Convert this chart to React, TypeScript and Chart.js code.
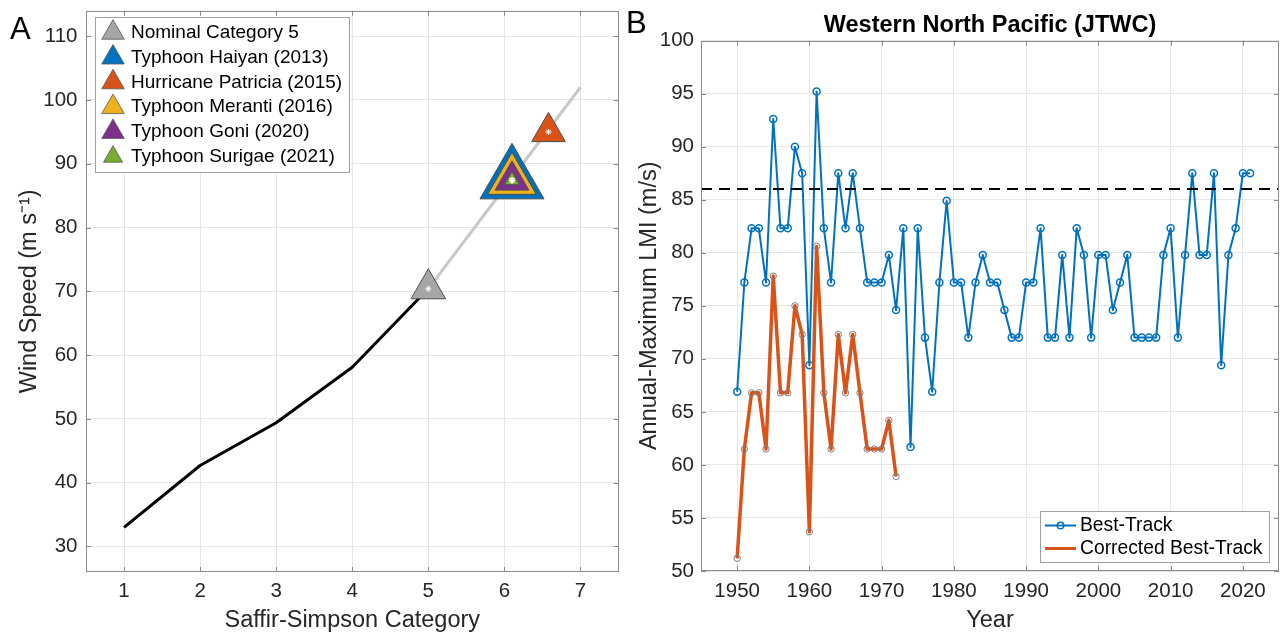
import React, { useEffect, useRef } from 'react';
import { Chart, registerables } from 'chart.js';

Chart.register(...registerables);

const FONT = '"Liberation Sans", Arial, Helvetica, sans-serif';
Chart.defaults.font.family = FONT;

// ---------------- Panel A data ----------------
const ssCategories = [1, 2, 3, 4, 5];
const ssThresholdWind = [33.0, 42.7, 49.4, 58.1, 70.4];
const extCategories = [5, 6, 7];
const extWind = [70.4, 86.2, 102.0];
const stormNames = [
  'Nominal Category 5',
  'Typhoon Haiyan (2013)',
  'Hurricane Patricia (2015)',
  'Typhoon Meranti (2016)',
  'Typhoon Goni (2020)',
  'Typhoon Surigae (2021)',
];
const stormCategory = [5, 6.1, 6.58, 6.1, 6.1, 6.1];
const stormWind = [70.4, 87.4, 95.0, 87.4, 87.4, 87.4];
const panelAXTicks = [1, 2, 3, 4, 5, 6, 7];
const panelAYTicks = [30, 40, 50, 60, 70, 80, 90, 100, 110];

// ---------------- Panel B data ----------------
const years = [
  1950, 1951, 1952, 1953, 1954, 1955, 1956, 1957, 1958, 1959,
  1960, 1961, 1962, 1963, 1964, 1965, 1966, 1967, 1968, 1969,
  1970, 1971, 1972, 1973, 1974, 1975, 1976, 1977, 1978, 1979,
  1980, 1981, 1982, 1983, 1984, 1985, 1986, 1987, 1988, 1989,
  1990, 1991, 1992, 1993, 1994, 1995, 1996, 1997, 1998, 1999,
  2000, 2001, 2002, 2003, 2004, 2005, 2006, 2007, 2008, 2009,
  2010, 2011, 2012, 2013, 2014, 2015, 2016, 2017, 2018, 2019,
  2020, 2021,
];
const bestTrackLMI = [
  66.9, 77.2, 82.3, 82.3, 77.2, 92.6, 82.3, 82.3, 90.0, 87.5,
  69.4, 95.2, 82.3, 77.2, 87.5, 82.3, 87.5, 82.3, 77.2, 77.2,
  77.2, 79.8, 74.6, 82.3, 61.7, 82.3, 72.0, 66.9, 77.2, 84.9,
  77.2, 77.2, 72.0, 77.2, 79.8, 77.2, 77.2, 74.6, 72.0, 72.0,
  77.2, 77.2, 82.3, 72.0, 72.0, 79.8, 72.0, 82.3, 79.8, 72.0,
  79.8, 79.8, 74.6, 77.2, 79.8, 72.0, 72.0, 72.0, 72.0, 79.8,
  82.3, 72.0, 79.8, 87.5, 79.8, 79.8, 87.5, 69.4, 79.8, 82.3,
  87.5, 87.5,
];
const correctedYears = [
  1950, 1951, 1952, 1953, 1954, 1955, 1956, 1957, 1958, 1959,
  1960, 1961, 1962, 1963, 1964, 1965, 1966, 1967, 1968, 1969,
  1970, 1971, 1972,
];
const correctedLMI = [
  51.2, 61.5, 66.8, 66.8, 61.5, 77.8, 66.8, 66.8, 75.0, 72.3,
  53.7, 80.6, 66.8, 61.5, 72.3, 66.8, 72.3, 66.8, 61.5, 61.5,
  61.5, 64.2, 58.9,
];
const lmiThreshold = 86.0;
const panelBXTicks = [1950, 1960, 1970, 1980, 1990, 2000, 2010, 2020];
const panelBYTicks = [50, 55, 60, 65, 70, 75, 80, 85, 90, 95, 100];
const yearAxisMin = 1945;
const yearAxisMax = 2025;

// ---------------- Styles ----------------
const TEXT = '#262626';
const AXIS = '#8a8a8a';
const GRID = '#e6e6e6';
const TICK_SIZE = 20.5;
const LABEL_SIZE = 23.5;
const stormFill = ['#A6A6A6', '#0072BD', '#D95319', '#EDB120', '#7E2F8E', '#77AC30'];
const stormRadius = [20, 37, 19.5, 28, 19.5, 9];
const stormOrder = [10, 9, 10, 8, 7, 6];
const legendTriRadius = [13, 13, 13, 13, 13, 11];

const setTicks = (vals: number[]) => (axis: any) => {
  axis.ticks = vals.map((v) => ({ value: v }));
};

const fixWidth = (w: number) => (s: any) => {
  s.width = w;
  s.paddingTop = 0;
  s.paddingBottom = 0;
};
const fixHeight = (h: number) => (s: any) => {
  s.height = h;
  s.paddingLeft = 0;
  s.paddingRight = 0;
};

const framePlugin = {
  id: 'frameTicks',
  afterDatasetsDraw(chart: any) {
    const { ctx, chartArea } = chart;
    const { left, right, top, bottom } = chartArea;
    const x = chart.scales.x;
    const y = chart.scales.y;
    const TL = 5;
    ctx.save();
    ctx.strokeStyle = AXIS;
    ctx.lineWidth = 1;
    ctx.beginPath();
    x.ticks.forEach((t: any) => {
      const px = Math.round(x.getPixelForValue(t.value)) + 0.5;
      ctx.moveTo(px, bottom);
      ctx.lineTo(px, bottom - TL);
      ctx.moveTo(px, top);
      ctx.lineTo(px, top + TL);
    });
    y.ticks.forEach((t: any) => {
      const py = Math.round(y.getPixelForValue(t.value)) + 0.5;
      ctx.moveTo(left, py);
      ctx.lineTo(left + TL, py);
      ctx.moveTo(right, py);
      ctx.lineTo(right - TL, py);
    });
    ctx.stroke();
    ctx.strokeRect(Math.round(left) + 0.5, Math.round(top) + 0.5, Math.round(right - left) - 1, Math.round(bottom - top) - 1);
    ctx.restore();
  },
};

function drawTri(ctx: CanvasRenderingContext2D, cx: number, cy: number, r: number) {
  ctx.beginPath();
  ctx.moveTo(cx, cy - r);
  ctx.lineTo(cx + r * 0.866, cy + r / 2);
  ctx.lineTo(cx - r * 0.866, cy + r / 2);
  ctx.closePath();
}

const legendAPlugin = {
  id: 'legendA',
  afterDraw(chart: any) {
    const ctx: CanvasRenderingContext2D = chart.ctx;
    const bx = 95, by = 17, bw = 254, bh = 155;
    ctx.save();
    ctx.fillStyle = '#fff';
    ctx.fillRect(bx, by, bw, bh);
    ctx.strokeStyle = '#a0a0a0';
    ctx.lineWidth = 1;
    ctx.strokeRect(bx + 0.5, by + 0.5, bw, bh);
    ctx.font = `19px ${FONT}`;
    ctx.textBaseline = 'middle';
    ctx.textAlign = 'left';
    stormNames.forEach((name, i) => {
      const cy = 32.7 + i * 24.8;
      drawTri(ctx, 113, cy, legendTriRadius[i]);
      ctx.fillStyle = stormFill[i];
      ctx.fill();
      ctx.strokeStyle = '#555';
      ctx.lineWidth = 0.8;
      ctx.stroke();
      ctx.fillStyle = '#000';
      ctx.fillText(name, 131, cy);
    });
    ctx.restore();
  },
};

const legendBPlugin = {
  id: 'legendB',
  afterDraw(chart: any) {
    const ctx: CanvasRenderingContext2D = chart.ctx;
    const off = 625;
    const bx = 1040 - off, by = 511, bw = 229, bh = 51;
    ctx.save();
    ctx.fillStyle = '#fff';
    ctx.fillRect(bx, by, bw, bh);
    ctx.strokeStyle = '#a0a0a0';
    ctx.lineWidth = 1;
    ctx.strokeRect(bx + 0.5, by + 0.5, bw, bh);
    const l0 = 1045 - off, l1 = 1076 - off;
    ctx.strokeStyle = '#0072BD';
    ctx.lineWidth = 2;
    ctx.beginPath();
    ctx.moveTo(l0, 525.5);
    ctx.lineTo(l1, 525.5);
    ctx.stroke();
    ctx.beginPath();
    ctx.arc((l0 + l1) / 2, 525.5, 3.3, 0, Math.PI * 2);
    ctx.lineWidth = 1.5;
    ctx.stroke();
    ctx.strokeStyle = '#D95319';
    ctx.lineWidth = 3;
    ctx.beginPath();
    ctx.moveTo(l0, 548.5);
    ctx.lineTo(l1, 548.5);
    ctx.stroke();
    ctx.fillStyle = '#000';
    ctx.font = `19.3px ${FONT}`;
    ctx.textBaseline = 'middle';
    ctx.textAlign = 'left';
    ctx.fillText('Best-Track', 1080 - off, 525.5);
    ctx.fillText('Corrected Best-Track', 1080 - off, 548.5);
    ctx.restore();
  },
};

function configA(): any {
  const datasets: any[] = [
    {
      label: 'Saffir-Simpson',
      data: ssCategories.map((c, i) => ({ x: c, y: ssThresholdWind[i] })),
      borderColor: '#000',
      borderWidth: 3,
      borderJoinStyle: 'round',
      pointRadius: 0,
      tension: 0,
      order: 20,
    },
    {
      label: 'Extension',
      data: extCategories.map((c, i) => ({ x: c, y: extWind[i] })),
      borderColor: '#c8c8c8',
      borderWidth: 3,
      pointRadius: 0,
      tension: 0,
      order: 21,
    },
  ];
  stormNames.forEach((name, i) => {
    datasets.push({
      label: name,
      data: [{ x: stormCategory[i], y: stormWind[i] }],
      showLine: false,
      pointStyle: 'triangle',
      pointRadius: stormRadius[i],
      pointBackgroundColor: stormFill[i],
      pointBorderColor: '#4d4d4d',
      pointBorderWidth: 1,
      order: stormOrder[i],
    });
  });
  datasets.push({
    label: 'centers',
    data: stormNames.map((_, i) => ({ x: stormCategory[i], y: stormWind[i] })),
    showLine: false,
    pointStyle: 'star',
    pointRadius: 3,
    pointBackgroundColor: '#fff',
    pointBorderColor: '#fff',
    pointBorderWidth: 1,
    order: 0,
  });
  return {
    type: 'line',
    data: { datasets },
    options: {
      responsive: false,
      animation: false,
      events: [],
      layout: { autoPadding: false, padding: { top: 10.7, right: 11.5, left: 0, bottom: 0 } },
      plugins: { legend: { display: false }, tooltip: { enabled: false }, title: { display: false } },
      scales: {
        x: {
          type: 'linear',
          min: 0.5,
          max: 7.5,
          afterBuildTicks: setTicks(panelAXTicks),
          afterFit: fixHeight(61),
          grid: { color: GRID, drawTicks: false },
          border: { display: false },
          ticks: { padding: 7, font: { size: TICK_SIZE }, color: TEXT, maxRotation: 0, minRotation: 0, callback: (v: any) => String(v) },
          title: { display: true, text: 'Saffir-Simpson Category', font: { size: LABEL_SIZE, lineHeight: 1 }, color: TEXT, padding: { top: 0, bottom: 1 } },
        },
        y: {
          type: 'linear',
          min: 26,
          max: 114,
          afterBuildTicks: setTicks(panelAYTicks),
          afterFit: fixWidth(86),
          grid: { color: GRID, drawTicks: false },
          border: { display: false },
          ticks: { padding: 8.5, font: { size: TICK_SIZE }, color: TEXT, callback: (v: any) => String(v) },
          title: { display: true, text: 'Wind Speed (m s\u207B\u00B9)', font: { size: LABEL_SIZE, lineHeight: 1 }, color: TEXT, padding: { top: 18, bottom: 0 } },
        },
      },
    },
    plugins: [framePlugin, legendAPlugin],
  };
}

function configB(): any {
  return {
    type: 'line',
    data: {
      datasets: [
        {
          label: 'Threshold',
          data: [
            { x: yearAxisMin, y: lmiThreshold },
            { x: yearAxisMax, y: lmiThreshold },
          ],
          borderColor: '#000',
          borderWidth: 2,
          borderDash: [11, 7],
          pointRadius: 0,
          order: 0,
        },
        {
          label: 'Corrected Best-Track',
          data: correctedYears.map((yr, i) => ({ x: yr, y: correctedLMI[i] })),
          borderColor: '#D95319',
          borderWidth: 3.5,
          borderJoinStyle: 'round',
          pointRadius: 3.2,
          pointStyle: 'circle',
          pointBackgroundColor: 'rgba(0,0,0,0)',
          pointBorderColor: '#7f7f7f',
          pointBorderWidth: 1,
          tension: 0,
          order: 1,
        },
        {
          label: 'Best-Track',
          data: years.map((yr, i) => ({ x: yr, y: bestTrackLMI[i] })),
          borderColor: '#0072BD',
          borderWidth: 2,
          borderJoinStyle: 'round',
          pointRadius: 3.5,
          pointStyle: 'circle',
          pointBackgroundColor: 'rgba(0,0,0,0)',
          pointBorderColor: '#0072BD',
          pointBorderWidth: 1.5,
          tension: 0,
          order: 2,
        },
      ],
    },
    options: {
      responsive: false,
      animation: false,
      events: [],
      layout: { autoPadding: false, padding: { top: 0, right: 1, left: 0, bottom: 0 } },
      plugins: {
        legend: { display: false },
        tooltip: { enabled: false },
        title: {
          display: true,
          text: 'Western North Pacific (JTWC)',
          font: { size: 23.5, weight: 'bold', lineHeight: 1.2 },
          color: '#000',
          padding: { top: 11, bottom: 1.4 },
          fullSize: false,
        },
      },
      scales: {
        x: {
          type: 'linear',
          min: yearAxisMin,
          max: yearAxisMax,
          afterBuildTicks: setTicks(panelBXTicks),
          afterFit: fixHeight(62),
          grid: { color: GRID, drawTicks: false },
          border: { display: false },
          ticks: { padding: 8, font: { size: TICK_SIZE }, color: TEXT, maxRotation: 0, minRotation: 0, callback: (v: any) => String(v) },
          title: { display: true, text: 'Year', font: { size: LABEL_SIZE, lineHeight: 1 }, color: TEXT, padding: { top: 0, bottom: 1 } },
        },
        y: {
          type: 'linear',
          min: 50,
          max: 100,
          afterBuildTicks: setTicks(panelBYTicks),
          afterFit: fixWidth(76),
          grid: { color: GRID, drawTicks: false },
          border: { display: false },
          ticks: { padding: 7, font: { size: TICK_SIZE }, color: TEXT, callback: (v: any) => String(v) },
          title: { display: true, text: 'Annual-Maximum LMI (m/s)', font: { size: LABEL_SIZE, lineHeight: 1 }, color: TEXT, padding: { top: 12.5, bottom: 0 } },
        },
      },
    },
    plugins: [framePlugin, legendBPlugin],
  };
}

export default function App() {
  const refA = useRef<HTMLCanvasElement>(null);
  const refB = useRef<HTMLCanvasElement>(null);
  useEffect(() => {
    const a = new Chart(refA.current as HTMLCanvasElement, configA());
    const b = new Chart(refB.current as HTMLCanvasElement, configB());
    return () => {
      a.destroy();
      b.destroy();
    };
  }, []);
  return (
    <div style={{ position: 'absolute', left: 0, top: 0, width: 1280, height: 633, background: '#fff', overflow: 'hidden', fontFamily: FONT }}>
      <canvas ref={refA} width={630} height={633} style={{ position: 'absolute', left: 0, top: 0, width: 630, height: 633 }} />
      <canvas ref={refB} width={655} height={633} style={{ position: 'absolute', left: 625, top: 0, width: 655, height: 633 }} />
      <div style={{ position: 'absolute', left: 10, top: 13, fontSize: 31, lineHeight: '31px', color: '#000' }}>A</div>
      <div style={{ position: 'absolute', left: 626, top: 7, fontSize: 31, lineHeight: '31px', color: '#000' }}>B</div>
    </div>
  );
}
